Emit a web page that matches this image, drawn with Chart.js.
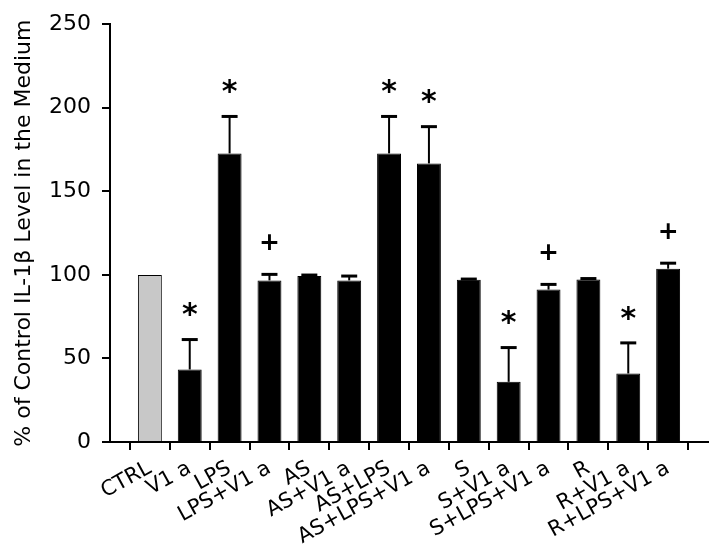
<!DOCTYPE html>
<html lang="en">
<head>
    <meta charset="UTF-8">
    <title>IL-1β Level in the Medium</title>
    <script src="https://cdn.jsdelivr.net/npm/chart.js"></script>
    <style>
        html, body {
            margin: 0;
            padding: 0;
            background: #fff;
        }
        #chartContainer {
            width: 720px;
            height: 549px;
        }
    </style>
</head>
<body>
    <div id="chartContainer">
        <canvas id="ilChart" width="720" height="549"></canvas>
    </div>

    <script>
        const categories = ['CTRL', 'V1 a', 'LPS', 'LPS+V1 a', 'AS', 'AS+V1 a', 'AS+LPS', 'AS+LPS+V1 a',
            'S', 'S+V1 a', 'S+LPS+V1 a', 'R', 'R+V1 a', 'R+LPS+V1 a'];
        const values = [100, 43.4, 172.7, 96.7, 99.3, 96.7, 172.7, 166.7, 97.1, 36, 91.2, 97.3, 41, 103.7];
        const errors = [0, 17.9, 22.1, 3.6, 0.6, 2.6, 22.1, 22, 0.4, 20.5, 3.1, 0.5, 18.3, 3.3];
        const marks = ['', '*', '*', '+', '', '', '*', '*', '', '*', '+', '', '*', '+'];
        const yTicks = [0, 50, 100, 150, 200, 250];

        const fontFamily = '"DejaVu Sans", Verdana, sans-serif';

        // error bars and significance marks drawn on top of the bars
        const errorBarPlugin = {
            id: 'errorBars',
            afterDatasetsDraw(chart) {
                const ctx = chart.ctx;
                const xs = chart.scales.x;
                const ys = chart.scales.y;
                ctx.save();
                ctx.strokeStyle = '#000';
                ctx.fillStyle = '#000';
                for (let i = 0; i < values.length; i++) {
                    const x = xs.getPixelForValue(i);
                    const yBar = ys.getPixelForValue(values[i]);
                    const yTop = ys.getPixelForValue(values[i] + errors[i]);
                    if (errors[i] > 0) {
                        ctx.lineWidth = 2;
                        ctx.beginPath();
                        ctx.moveTo(x, yBar);
                        ctx.lineTo(x, yTop);
                        ctx.stroke();
                        ctx.lineWidth = 3;
                        ctx.beginPath();
                        ctx.moveTo(x - 8, yTop);
                        ctx.lineTo(x + 8, yTop);
                        ctx.stroke();
                    }
                    if (marks[i]) {
                        ctx.textAlign = 'center';
                        ctx.textBaseline = 'middle';
                        if (marks[i] === '*') {
                            ctx.font = 'bold 30px ' + fontFamily;
                            ctx.fillText('*', x, yTop - 23);
                        } else {
                            ctx.font = 'bold 25px ' + fontFamily;
                            ctx.fillText('+', x, yTop - 31);
                        }
                    }
                }
                ctx.restore();
            }
        };

        const ctx = document.getElementById('ilChart').getContext('2d');
        new Chart(ctx, {
            type: 'bar',
            data: {
                datasets: [{
                    data: values.map((v, i) => ({ x: i, y: v })),
                    backgroundColor: values.map((v, i) => i === 0 ? '#c8c8c8' : '#000'),
                    borderColor: '#000',
                    borderWidth: 1,
                    barPercentage: 0.6,
                    categoryPercentage: 1.0
                }]
            },
            options: {
                responsive: false,
                animation: false,
                layout: {
                    padding: { top: 23, right: 12, left: 0, bottom: 0 }
                },
                plugins: {
                    legend: { display: false },
                    tooltip: { enabled: false }
                },
                scales: {
                    x: {
                        type: 'linear',
                        min: -1,
                        max: 14,
                        offset: false,
                        afterBuildTicks(scale) {
                            scale.ticks = categories.map((c, i) => ({ value: i }));
                        },
                        afterFit(scale) {
                            scale.height = 107;
                        },
                        ticks: {
                            autoSkip: false,
                            minRotation: 29,
                            maxRotation: 29,
                            padding: 6,
                            color: '#000',
                            font: { family: fontFamily, size: 21 },
                            callback: (v) => categories[v] ?? ''
                        },
                        grid: {
                            drawOnChartArea: false,
                            drawTicks: true,
                            tickLength: 8,
                            color: '#000',
                            lineWidth: 2
                        },
                        border: { display: true, color: '#000', width: 2 }
                    },
                    y: {
                        min: 0,
                        max: 250,
                        afterBuildTicks(scale) {
                            scale.ticks = yTicks.map(v => ({ value: v }));
                        },
                        afterFit(scale) {
                            scale.width = 110;
                        },
                        ticks: {
                            color: '#000',
                            padding: 11,
                            font: { family: fontFamily, size: 22 }
                        },
                        grid: {
                            drawOnChartArea: false,
                            drawTicks: true,
                            tickLength: 8,
                            color: '#000',
                            lineWidth: 2
                        },
                        border: { display: true, color: '#000', width: 2 },
                        title: {
                            display: true,
                            text: '% of Control IL-1β Level in the Medium',
                            color: '#000',
                            font: { family: fontFamily, size: 22 },
                            padding: { top: 11, bottom: 10 }
                        }
                    }
                }
            },
            plugins: [errorBarPlugin]
        });
    </script>
</body>
</html>
